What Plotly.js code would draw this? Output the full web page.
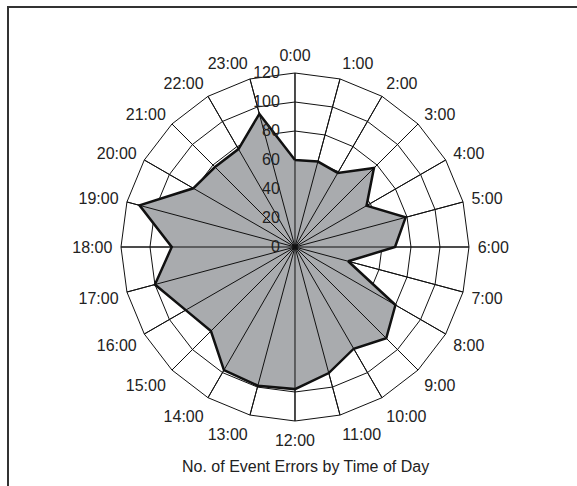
<!DOCTYPE html>
<html>
<head>
<meta charset="utf-8">
<script src="https://cdn.plot.ly/plotly-3.0.1.min.js"></script>
<style>
html,body{margin:0;padding:0;background:#fff;}
#frame{position:absolute;left:7px;top:6px;width:580px;height:490px;border-left:2px solid #333;border-top:2px solid #333;}
#chart{position:absolute;left:0;top:0;width:577px;height:486px;}
</style>
</head>
<body>
<div id="frame"></div>
<div id="chart"></div>
<script>
var hours = ["0:00","1:00","2:00","3:00","4:00","5:00","6:00","7:00","8:00","9:00","10:00","11:00",
             "12:00","13:00","14:00","15:00","16:00","17:00","18:00","19:00","20:00","21:00","22:00","23:00"];
var errors = [60, 61, 59, 77, 57, 79, 69, 38, 80, 89, 81, 90,
              98, 99, 98, 82, 87, 100, 85, 111, 81, 78, 78, 95];
var radialTicks = [0, 20, 40, 60, 80, 100, 120];
var chartTitle = "No. of Event Errors by Time of Day";

var rMax = radialTicks[radialTicks.length - 1];

// closed polygon
var rClosed = errors.concat([errors[0]]);
var tClosed = hours.concat([hours[0]]);

// spokes drawn above the fill
var spokeR = [], spokeT = [];
hours.forEach(function(h){ spokeR.push(0, rMax, null); spokeT.push(h, h, null); });

var traces = [
  {type:"scatterpolar", r:rClosed, theta:tClosed, mode:"lines", fill:"toself",
   fillcolor:"#a9abae", line:{width:0, color:"rgba(0,0,0,0)"}, hoverinfo:"skip", showlegend:false},
  {type:"scatterpolar", r:spokeR, theta:spokeT, mode:"lines",
   line:{width:1, color:"#111"}, connectgaps:false, hoverinfo:"skip", showlegend:false},
  {type:"scatterpolar", r:rClosed, theta:tClosed, mode:"lines",
   line:{width:2.5, color:"#111"}, showlegend:false},
  {type:"scatterpolar", r:[0], theta:[hours[0]], mode:"markers",
   marker:{size:9, color:"#111"}, hoverinfo:"skip", showlegend:false}
];

var layout = {
  width:577, height:486,
  margin:{l:0, r:0, t:0, b:0},
  paper_bgcolor:"rgba(0,0,0,0)",
  plot_bgcolor:"rgba(0,0,0,0)",
  font:{family:"Liberation Sans, Arial, sans-serif", size:16, color:"#222"},
  showlegend:false,
  polar:{
    domain:{x:[0.2097, 0.8128], y:[0.1337, 0.8498]},
    bgcolor:"#fff",
    gridshape:"linear",
    angularaxis:{
      type:"category",
      categoryarray:hours,
      direction:"clockwise",
      rotation:90,
      showgrid:true, gridcolor:"#111", gridwidth:1,
      showline:true, linecolor:"#111", linewidth:1,
      ticks:"outside", ticklen:5, tickcolor:"rgba(0,0,0,0)",
      tickfont:{size:16, color:"#222"}
    },
    radialaxis:{
      range:[0, rMax],
      tickvals:radialTicks,
      angle:90,
      side:"counterclockwise",
      tickangle:90,
      showgrid:true, gridcolor:"#111", gridwidth:1,
      showline:false,
      ticks:"outside", ticklen:9, tickcolor:"rgba(0,0,0,0)",
      tickfont:{size:16, color:"#222"}
    }
  },
  annotations:[{
    text:chartTitle, xref:"paper", yref:"paper", x:0.529, y:0.0397,
    xanchor:"center", yanchor:"middle", showarrow:false,
    font:{size:16, color:"#222"}
  }]
};

Plotly.newPlot("chart", traces, layout, {displayModeBar:false, staticPlot:true});
</script>
</body>
</html>
